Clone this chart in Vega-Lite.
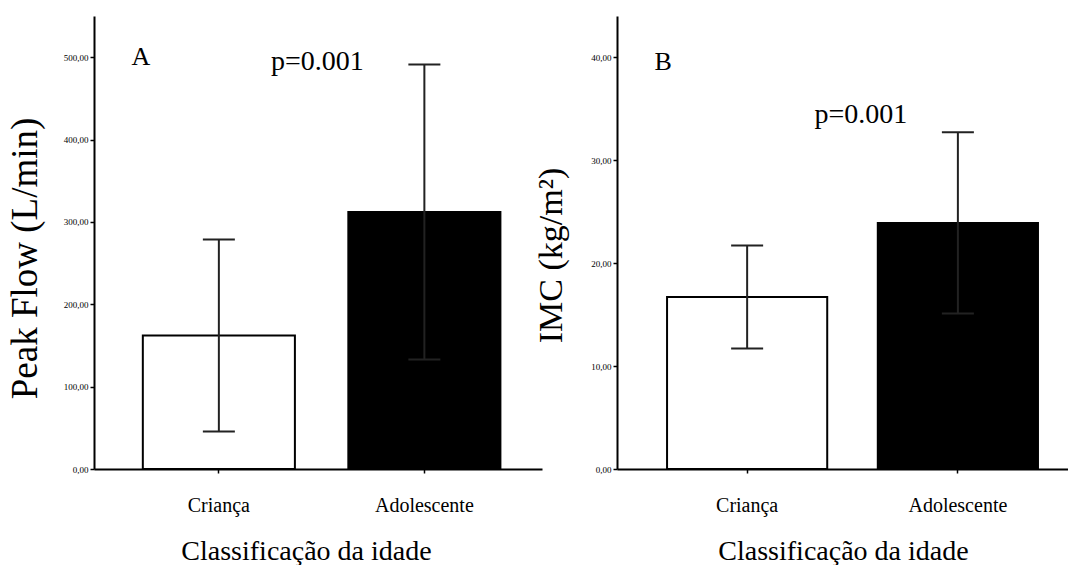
{
  "$schema": "https://vega.github.io/schema/vega-lite/v6.json",
  "background": "white",
  "padding": {"left": 6, "top": 16, "right": 0, "bottom": 0},
  "spacing": 75,
  "bounds": "flush",
  "config": {
    "view": {"stroke": null},
    "axis": {"grid": false, "domainColor": "black", "domainWidth": 2, "tickColor": "black", "tickWidth": 1.5, "tickSize": 4, "labelColor": "black", "titleColor": "black", "titleFontWeight": "normal", "titleFont": "Liberation Serif"}
  },
  "hconcat": [
    {
      "width": 448,
      "height": 453,
      "data": {"values": [
        {"grupo": "Criança", "media": 162, "inf": 45.5, "sup": 278.5},
        {"grupo": "Adolescente", "media": 312, "inf": 133, "sup": 491}
      ]},
      "encoding": {
        "x": {"field": "grupo", "type": "nominal", "sort": ["Criança", "Adolescente"],
          "scale": {"paddingInner": 0.26, "paddingOuter": 0.22, "align": 0.54},
          "axis": {"title": "Classificação da idade", "labelAngle": 0, "labelFont": "Liberation Serif", "labelFontSize": 20, "labelPadding": 22, "titleFontSize": 28, "titleY": 90, "titleX": 212, "titleBaseline": "alphabetic", "titleAlign": "center"}}
      },
      "layer": [
        {
          "mark": {"type": "bar", "stroke": "black", "strokeWidth": 2},
          "encoding": {
            "y": {"field": "media", "type": "quantitative", "title": "Peak Flow (L/min)",
              "scale": {"domain": [0, 550], "nice": false},
              "axis": {"values": [0, 100, 200, 300, 400, 500], "labelExpr": "replace(format(datum.value, '.2f'), '.', ',')", "labelFont": "Liberation Sans Narrow", "labelFontSize": 9, "labelPadding": 2, "titleFontSize": 37, "titleX": -69, "titleY": 242, "titleAngle": -90, "titleBaseline": "middle", "titleAlign": "center"}},
            "fill": {"field": "grupo", "type": "nominal", "scale": {"domain": ["Criança", "Adolescente"], "range": ["white", "black"]}, "legend": null}
          }
        },
        {
          "mark": {"type": "rule", "stroke": "#222222", "strokeWidth": 2},
          "encoding": {"y": {"field": "inf", "type": "quantitative", "title": "Peak Flow (L/min)"}, "y2": {"field": "sup"}}
        },
        {
          "mark": {"type": "tick", "orient": "horizontal", "size": 32, "thickness": 2, "color": "#222222", "opacity": 1},
          "encoding": {"y": {"field": "sup", "type": "quantitative", "title": "Peak Flow (L/min)"}}
        },
        {
          "mark": {"type": "tick", "orient": "horizontal", "size": 32, "thickness": 2, "color": "#222222", "opacity": 1},
          "encoding": {"y": {"field": "inf", "type": "quantitative", "title": "Peak Flow (L/min)"}}
        },
        {
          "data": {"values": [{"grupo": "Criança", "pos": 500, "rotulo": "A"}]},
          "mark": {"type": "text", "font": "Liberation Serif", "fontSize": 26, "dx": -78, "baseline": "middle", "align": "center", "color": "black"},
          "encoding": {"y": {"field": "pos", "type": "quantitative", "title": "Peak Flow (L/min)"}, "text": {"field": "rotulo"}}
        },
        {
          "data": {"values": [{"grupo": "Adolescente", "pos": 494, "rotulo": "p=0.001"}]},
          "mark": {"type": "text", "font": "Liberation Serif", "fontSize": 28, "dx": -107, "baseline": "middle", "align": "center", "color": "black"},
          "encoding": {"y": {"field": "pos", "type": "quantitative", "title": "Peak Flow (L/min)"}, "text": {"field": "rotulo"}}
        }
      ]
    },
    {
      "width": 451,
      "height": 453,
      "data": {"values": [
        {"grupo": "Criança", "media": 16.7, "inf": 11.7, "sup": 21.7},
        {"grupo": "Adolescente", "media": 23.9, "inf": 15.1, "sup": 32.7}
      ]},
      "encoding": {
        "x": {"field": "grupo", "type": "nominal", "sort": ["Criança", "Adolescente"],
          "scale": {"paddingInner": 0.24, "paddingOuter": 0.19, "align": 0.625},
          "axis": {"title": "Classificação da idade", "labelAngle": 0, "labelFont": "Liberation Serif", "labelFontSize": 20, "labelPadding": 22, "titleFontSize": 28, "titleY": 90, "titleX": 226, "titleBaseline": "alphabetic", "titleAlign": "center"}}
      },
      "layer": [
        {
          "mark": {"type": "bar", "stroke": "black", "strokeWidth": 2},
          "encoding": {
            "y": {"field": "media", "type": "quantitative", "title": "IMC (kg/m²)",
              "scale": {"domain": [0, 44], "nice": false},
              "axis": {"values": [0, 10, 20, 30, 40], "labelExpr": "replace(format(datum.value, '.2f'), '.', ',')", "labelFont": "Liberation Sans Narrow", "labelFontSize": 9, "labelPadding": 2, "titleFontSize": 34, "titleX": -66, "titleY": 239, "titleAngle": -90, "titleBaseline": "middle", "titleAlign": "center"}},
            "fill": {"field": "grupo", "type": "nominal", "scale": {"domain": ["Criança", "Adolescente"], "range": ["white", "black"]}, "legend": null}
          }
        },
        {
          "mark": {"type": "rule", "stroke": "#222222", "strokeWidth": 2},
          "encoding": {"y": {"field": "inf", "type": "quantitative", "title": "IMC (kg/m²)"}, "y2": {"field": "sup"}}
        },
        {
          "mark": {"type": "tick", "orient": "horizontal", "size": 32, "thickness": 2, "color": "#222222", "opacity": 1},
          "encoding": {"y": {"field": "sup", "type": "quantitative", "title": "IMC (kg/m²)"}}
        },
        {
          "mark": {"type": "tick", "orient": "horizontal", "size": 32, "thickness": 2, "color": "#222222", "opacity": 1},
          "encoding": {"y": {"field": "inf", "type": "quantitative", "title": "IMC (kg/m²)"}}
        },
        {
          "data": {"values": [{"grupo": "Criança", "pos": 39.5, "rotulo": "B"}]},
          "mark": {"type": "text", "font": "Liberation Serif", "fontSize": 26, "dx": -84, "baseline": "middle", "align": "center", "color": "black"},
          "encoding": {"y": {"field": "pos", "type": "quantitative", "title": "IMC (kg/m²)"}, "text": {"field": "rotulo"}}
        },
        {
          "data": {"values": [{"grupo": "Adolescente", "pos": 34.4, "rotulo": "p=0.001"}]},
          "mark": {"type": "text", "font": "Liberation Serif", "fontSize": 28, "dx": -97, "baseline": "middle", "align": "center", "color": "black"},
          "encoding": {"y": {"field": "pos", "type": "quantitative", "title": "IMC (kg/m²)"}, "text": {"field": "rotulo"}}
        }
      ]
    }
  ]
}
